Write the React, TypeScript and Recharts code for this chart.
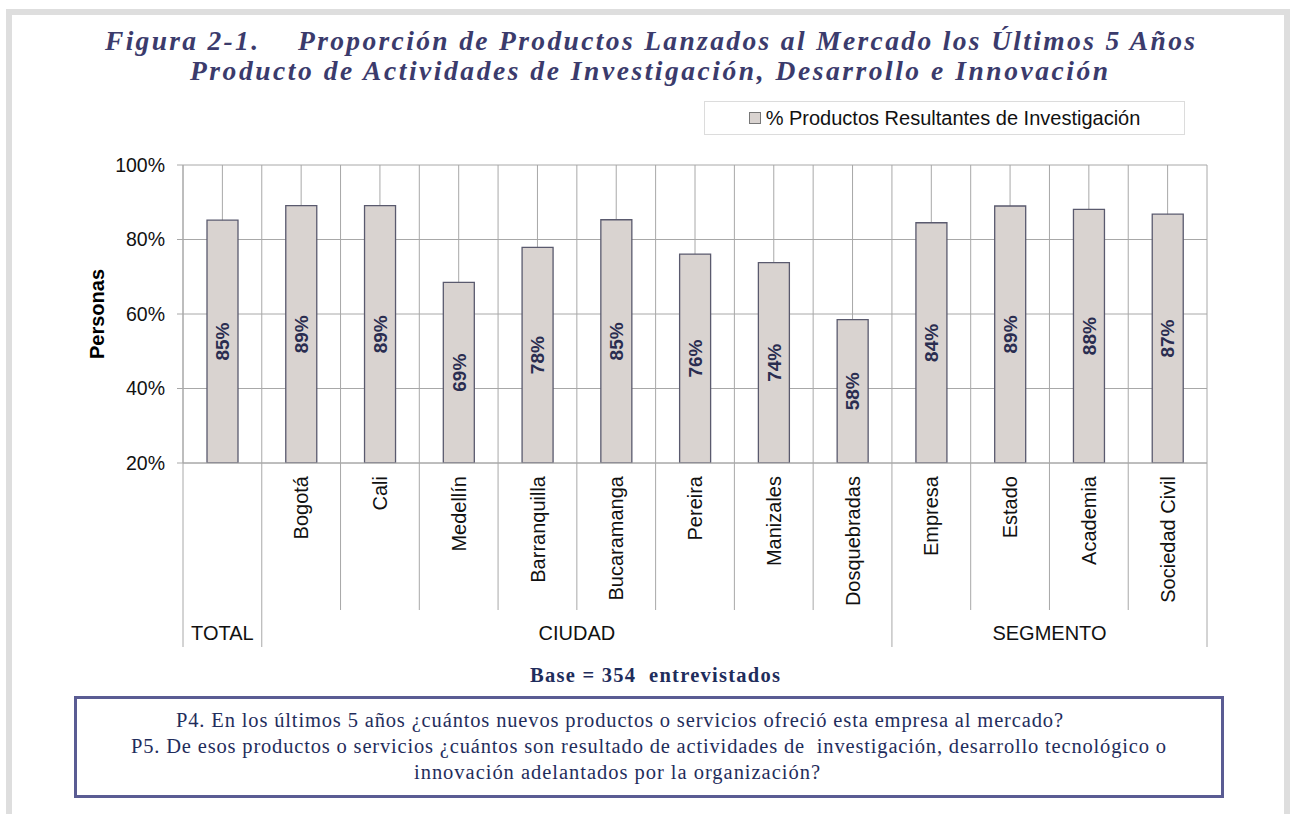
import React from 'react';
import { BarChart, Bar, XAxis, YAxis, CartesianGrid, LabelList, Legend } from 'recharts';

const categories = ["TOTAL", "Bogotá", "Cali", "Medellín", "Barranquilla", "Bucaramanga", "Pereira", "Manizales", "Dosquebradas", "Empresa", "Estado", "Academia", "Sociedad Civil"];
const groups = ["TOTAL", "CIUDAD", "CIUDAD", "CIUDAD", "CIUDAD", "CIUDAD", "CIUDAD", "CIUDAD", "CIUDAD", "SEGMENTO", "SEGMENTO", "SEGMENTO", "SEGMENTO"];
const values = [85.2, 89.1, 89.1, 68.5, 77.9, 85.3, 76.1, 73.8, 58.5, 84.5, 89.0, 88.1, 86.8];
const valueLabels = ["85%", "89%", "89%", "69%", "78%", "85%", "76%", "74%", "58%", "84%", "89%", "88%", "87%"];
const yTicks = [20, 40, 60, 80, 100];
const seriesName = "% Productos Resultantes de Investigación";

const titleLine1a = "Figura 2-1.";
const titleLine1b = "Proporción de Productos Lanzados al Mercado los Últimos 5 Años";
const titleLine2 = "Producto de Actividades de Investigación, Desarrollo e Innovación";
const baseText = "Base = 354  entrevistados";
const questionLines = [
  "P4. En los últimos 5 años ¿cuántos nuevos productos o servicios ofreció esta empresa al mercado?",
  "P5. De esos productos o servicios ¿cuántos son resultado de actividades de  investigación, desarrollo tecnológico o",
  "innovación adelantados por la organización?",
];

const data = categories.map((c, i) => ({ category: c, group: groups[i], value: values[i], label: valueLabels[i] }));

const W = 1290;
const H = 814;
const MARGIN = { top: 165, right: 83, left: 97, bottom: 161 };
const YAXIS_W = 86;
const XAXIS_H = 190;
const PLOT_W = W - MARGIN.left - YAXIS_W - MARGIN.right;
const BAND = PLOT_W / categories.length;

const SANS = "'Liberation Sans', Arial, sans-serif";
const SERIF = "'Liberation Serif', 'Times New Roman', serif";
const LINE = "#a8a8a8";
const NAVY = "#1f2d5c";
const TITLE = "#3b3b6c";

const CategoryTick = (props: any) => {
  const { x, y, payload } = props;
  const i: number = payload.index;
  const half = BAND / 2;
  const left = x - half;
  const isGroupStart = i === 0 || groups[i] !== groups[i - 1];
  const isLast = i === categories.length - 1;
  const n = groups.filter((g) => g === groups[i]).length;
  return (
    <g>
      <line x1={left} x2={left} y1={y} y2={y + (isGroupStart ? 184 : 147)} stroke={LINE} strokeWidth={1} />
      {isLast && <line x1={x + half} x2={x + half} y1={y} y2={y + 184} stroke={LINE} strokeWidth={1} />}
      {isGroupStart && (
        <text x={left + (n * BAND) / 2} y={y + 177} textAnchor="middle" fontFamily={SANS} fontSize={20} fill="#111">
          {groups[i]}
        </text>
      )}
      {categories[i] !== groups[i] && (
        <text
          x={x}
          y={y + 13}
          dy="0.36em"
          textAnchor="end"
          transform={`rotate(-90 ${x} ${y + 13})`}
          fontFamily={SANS}
          fontSize={20}
          fill="#111"
        >
          {categories[i]}
        </text>
      )}
    </g>
  );
};

const renderLegend = (props: any) => {
  const { payload } = props;
  return (
    <div
      style={{
        width: 481,
        height: 34,
        boxSizing: 'border-box',
        border: '1px solid #dcdcdc',
        background: '#fff',
        display: 'flex',
        alignItems: 'center',
        justifyContent: 'center',
        fontFamily: SANS,
        fontSize: 20,
        color: '#111',
      }}
    >
      {(payload || []).map((e: any) => (
        <span key={e.value} style={{ display: 'inline-flex', alignItems: 'center' }}>
          <span
            style={{
              display: 'inline-block',
              width: 10,
              height: 10,
              background: e.color,
              border: '1px solid #777',
              marginRight: 5,
            }}
          />
          {e.value}
        </span>
      ))}
    </div>
  );
};

const YLabel = (props: any) => {
  const { viewBox } = props;
  const cx = viewBox.x;
  const cy = viewBox.y + viewBox.height / 2;
  return (
    <text
      x={cx}
      y={cy}
      transform={`rotate(-90 ${cx} ${cy})`}
      textAnchor="middle"
      dominantBaseline="central"
      fontFamily={SANS}
      fontSize={20}
      fontWeight="bold"
      fill="#000"
    >
      Personas
    </text>
  );
};

export default function App() {
  return (
    <div style={{ position: 'absolute', left: 0, top: 0, width: W, height: H, background: '#fff', overflow: 'hidden' }}>
      <div style={{ position: 'absolute', left: 0, top: 0 }}>
        <BarChart width={W} height={H} data={data} margin={MARGIN}>
          <CartesianGrid
            stroke={LINE}
            strokeWidth={1}
            verticalCoordinatesGenerator={({ offset }: any) =>
              Array.from({ length: categories.length * 2 + 1 }, (_, k) => offset.left + (k * offset.width) / (categories.length * 2))
            }
          />
          <XAxis
            dataKey="category"
            interval={0}
            height={XAXIS_H}
            tickLine={false}
            tickSize={0}
            tickMargin={0}
            axisLine={{ stroke: LINE }}
            tick={<CategoryTick />}
          />
          <YAxis
            width={YAXIS_W}
            domain={[20, 100]}
            ticks={yTicks}
            allowDataOverflow
            tickFormatter={(v: number) => `${v}%`}
            tickSize={6}
            tickMargin={12}
            axisLine={{ stroke: LINE }}
            tickLine={{ stroke: LINE }}
            tick={{ fontFamily: SANS, fontSize: 19.5, fill: '#111' }}
            label={{ content: <YLabel /> } as any}
          />
          <Legend
            layout="horizontal"
            verticalAlign="middle"
            align="center"
            content={renderLegend}
            wrapperStyle={{ left: 704, top: 101, width: 481, height: 34 }}
          />
          <Bar
            dataKey="value"
            name={seriesName}
            fill="#d9d3d0"
            stroke="#5a5a6e"
            strokeWidth={1.3}
            barSize={31}
            isAnimationActive={false}
          >
            <LabelList
              dataKey="label"
              position="center"
              angle={-90}
              fontFamily={SANS}
              fontSize={19}
              fontWeight="bold"
              fill="#2a2d50"
            />
          </Bar>
        </BarChart>
      </div>
      <svg width={W} height={H} style={{ position: 'absolute', left: 0, top: 0, pointerEvents: 'none' }}>
        <rect x={6} y={9} width={1284} height={6} fill="#dedede" />
        <rect x={6} y={9} width={6} height={805} fill="#dedede" />
        <rect x={1284} y={9} width={6} height={805} fill="#dedede" />
        <g fontFamily={SERIF} fontStyle="italic" fontWeight="bold" fontSize={27.5} fill={TITLE}>
          <text x={105} y={50} textLength={153} lengthAdjust="spacing">{titleLine1a}</text>
          <text x={298} y={50} textLength={897} lengthAdjust="spacing">{titleLine1b}</text>
          <text x={190} y={80} textLength={918} lengthAdjust="spacing">{titleLine2}</text>
        </g>
        <text x={530} y={682} textLength={250} lengthAdjust="spacing" fontFamily={SERIF} fontWeight="bold" fontSize={20.5} fill={NAVY} style={{ whiteSpace: 'pre' }}>
          {baseText}
        </text>
        <rect x={75.5} y={697.5} width={1147} height={99} fill="none" stroke="#5a5c93" strokeWidth={3} />
        <g fontFamily={SERIF} fontSize={20.5} fill={NAVY}>
          <text x={176} y={727} textLength={887} lengthAdjust="spacing">{questionLines[0]}</text>
          <text x={131} y={753} textLength={1035} lengthAdjust="spacing" style={{ whiteSpace: 'pre' }}>{questionLines[1]}</text>
          <text x={414} y={779} textLength={406} lengthAdjust="spacing">{questionLines[2]}</text>
        </g>
      </svg>
    </div>
  );
}
